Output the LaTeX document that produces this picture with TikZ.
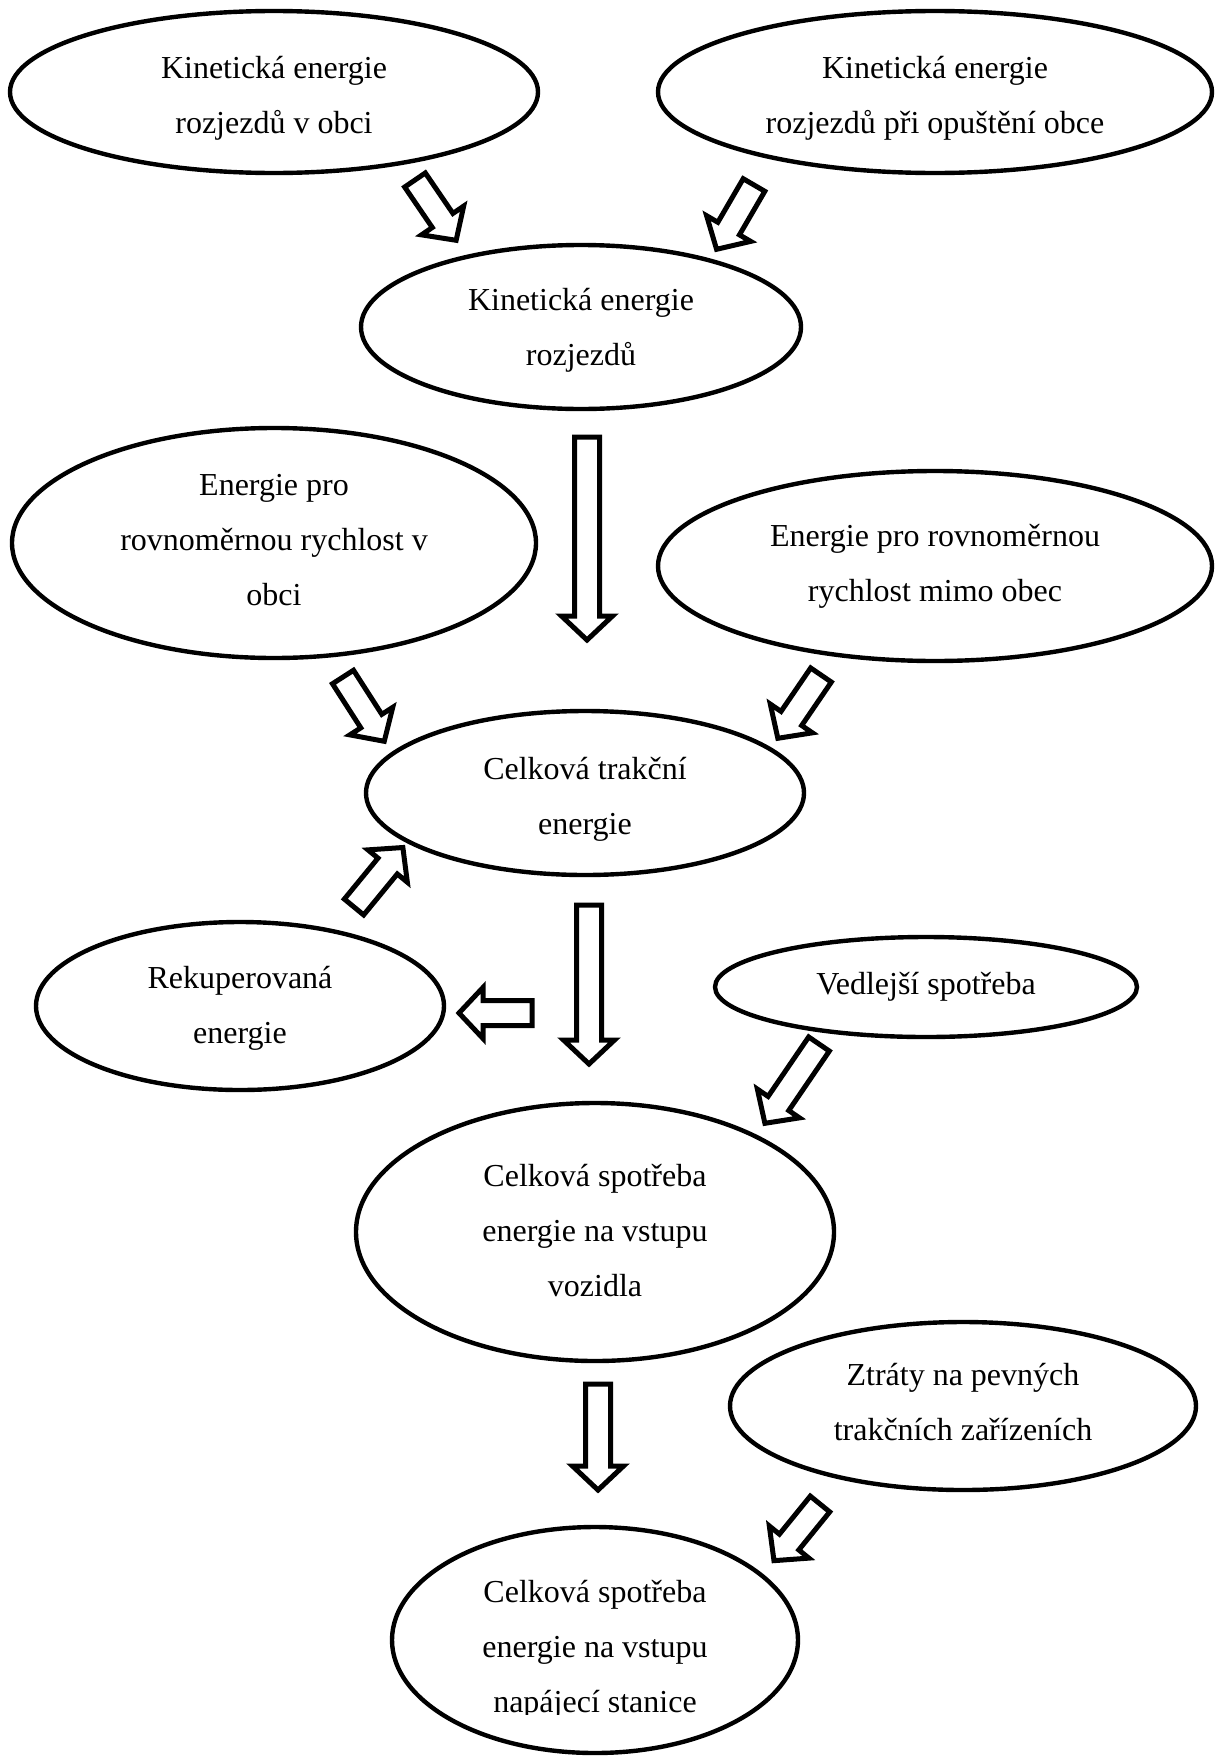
\documentclass[tikz,border=0pt]{standalone}
\usepackage{fontspec}
\setmainfont{Liberation Serif}
\usetikzlibrary{shapes.geometric}
\tikzset{
  ell/.style={ellipse, draw, line width=2.2pt, inner sep=0pt},
  txt/.style={inner sep=0pt, align=center, font=\fontsize{16}{27.5}\selectfont},
  barr/.style={draw, line width=2.5pt, fill=white, line join=miter}
}
% #1 tail, #2 rotation angle, #3 length in pt
\newcommand\blockarrow[3]{\begin{scope}[shift={#1},rotate=#2]
  \draw[barr] (0pt,-6.25pt) -- (#3pt-12pt,-6.25pt) -- (#3pt-12pt,-12.75pt) -- (#3pt,0pt)
    -- (#3pt-12pt,12.75pt) -- (#3pt-12pt,6.25pt) -- (0pt,6.25pt) -- cycle;
\end{scope}}
\begin{document}
\begin{tikzpicture}[x=0.5pt,y=-0.5pt]
\useasboundingbox (0,0) rectangle (1221,1756);
\clip (0,0) rectangle (1221,1756);

% ellipses
\node[ell, minimum width=264pt, minimum height=81pt] (e1) at (274,92) {};
\node[ell, minimum width=277pt, minimum height=81pt] (e2) at (935,92) {};
\node[ell, minimum width=220pt, minimum height=82pt] (e3) at (581,327) {};
\node[ell, minimum width=262pt, minimum height=115pt] (e4) at (274,543) {};
\node[ell, minimum width=277pt, minimum height=95pt] (e5) at (935,566) {};
\node[ell, minimum width=219pt, minimum height=82pt] (e6) at (585,793) {};
\node[ell, minimum width=204pt, minimum height=84pt] (e7) at (240,1006) {};
\node[ell, minimum width=211pt, minimum height=50pt] (e8) at (926,987) {};
\node[ell, minimum width=239pt, minimum height=129pt] (e9) at (595,1232) {};
\node[ell, minimum width=233pt, minimum height=84pt] (e10) at (963,1406) {};
\node[ell, minimum width=203pt, minimum height=113pt] (e11) at (595,1640) {};

% texts
\node[txt] (t1) at (274,98) {Kinetická energie\\rozjezdů v obci};
\node[txt] (t2) at (935,98) {Kinetická energie\\rozjezdů při opuštění obce};
\node[txt] (t3) at (581,330) {Kinetická energie\\rozjezdů};
\node[txt] (t4) at (274,540) {Energie pro\\rovnoměrnou rychlost v\\obci};
\node[txt] (t5) at (935,566) {Energie pro rovnoměrnou\\rychlost mimo obec};
\node[txt] (t6) at (585,799) {Celková trakční\\energie};
\node[txt] (t7) at (240,1008) {Rekuperovaná\\energie};
\node[txt] (t8) at (926,987) {Vedlejší spotřeba};
\node[txt] (t9) at (595,1231) {Celková spotřeba\\energie na vstupu\\vozidla};
\node[txt] (t10) at (963,1402) {Ztráty na pevných\\trakčních zařízeních};
\begin{scope}
  \clip (0,0) rectangle (1221,1714);
  \node[txt] (t11) at (595,1650) {Celková spotřeba\\energie na vstupu\\napájecí stanice};
\end{scope}

% block arrows
\blockarrow{(415,180)}{-55.7}{36.5}
\blockarrow{(754,185)}{-120.2}{37.2}
\blockarrow{(587,437)}{-90}{101.5}
\blockarrow{(343,677)}{-57.3}{38.2}
\blockarrow{(821,675)}{-124.3}{38.3}
\blockarrow{(354,907)}{50.6}{38.5}
\blockarrow{(532,1013)}{180}{36.5}
\blockarrow{(589,905)}{-90}{79.5}
\blockarrow{(819,1044)}{-124.3}{48}
\blockarrow{(598,1384)}{-90}{53}
\blockarrow{(820,1504)}{-129.1}{36.5}
\end{tikzpicture}
\end{document}
